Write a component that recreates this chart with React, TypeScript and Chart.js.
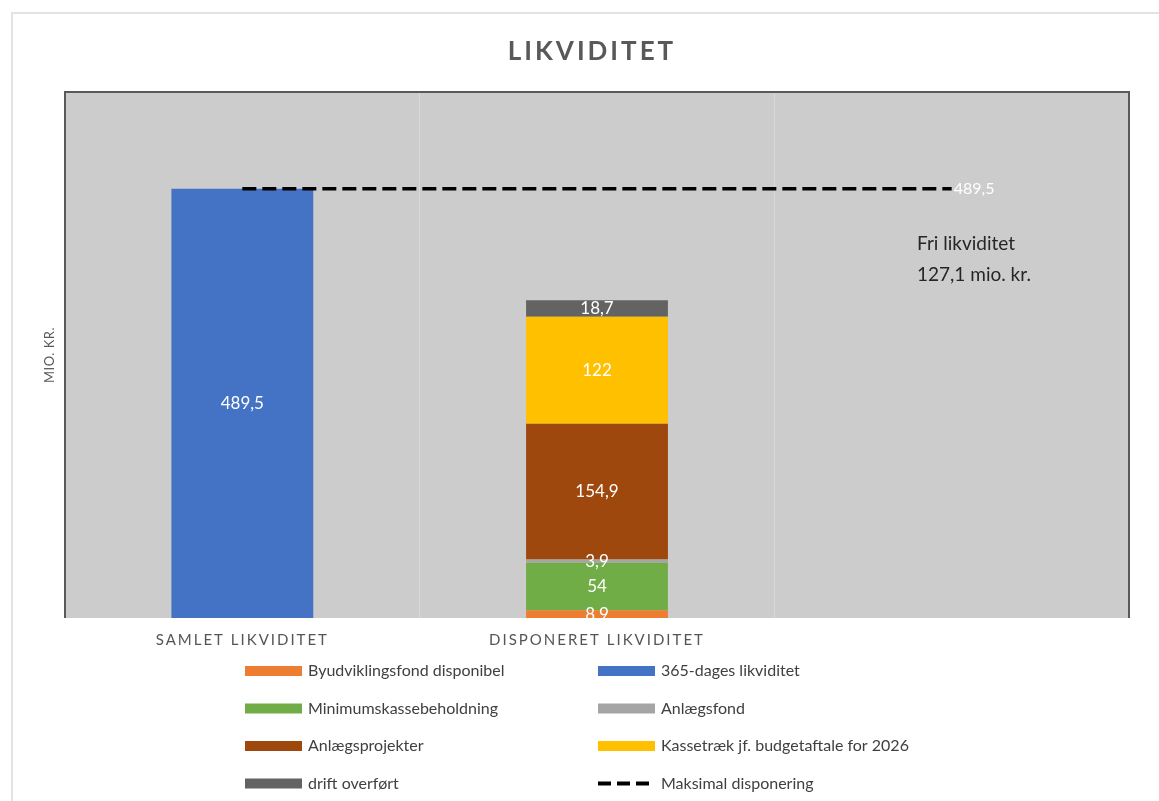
import React, { useEffect, useRef } from "react";
import { Chart, registerables } from "chart.js";

Chart.register(...registerables);

// ---- data ----
const categories = ["SAMLET LIKVIDITET", "DISPONERET LIKVIDITET", ""];
const byudviklingsfond = [null, 8.9, null];
const dages365 = [489.5, null, null];
const minimumskasse = [null, 54, null];
const anlaegsfond = [null, 3.9, null];
const anlaegsprojekter = [null, 154.9, null];
const kassetraek = [null, 122, null];
const driftOverfort = [null, 18.7, null];
const maksimalDisponering = [489.5, 489.5, 489.5];
const yMax = 600;
const chartTitle = "LIKVIDITET";
const yAxisTitle = "MIO. KR.";
const noteLines = ["Fri likviditet", "127,1 mio. kr."];

const FONT = "Lato";
const fmt = (v: number) => String(v).replace(".", ",");

const decorPlugin = {
  id: "decor",
  beforeDraw(chart: any) {
    const { ctx, chartArea: a } = chart;
    ctx.save();
    ctx.fillStyle = "#cccccc";
    ctx.fillRect(a.left, a.top, a.right - a.left, a.bottom - a.top);
    ctx.restore();
    (ctx as any).letterSpacing = "2px";
  },
  beforeDatasetsDraw(chart: any) {
    (chart.ctx as any).letterSpacing = "0px";
  },
  afterDatasetsDraw(chart: any) {
    const { ctx, chartArea: a } = chart;
    ctx.save();
    ctx.beginPath();
    ctx.rect(a.left, a.top, a.right - a.left, a.bottom - a.top);
    ctx.clip();
    ctx.fillStyle = "#ffffff";
    ctx.font = `17px ${FONT}`;
    ctx.textAlign = "center";
    ctx.textBaseline = "middle";
    chart.data.datasets.forEach((ds: any, i: number) => {
      const meta = chart.getDatasetMeta(i);
      if (ds.type === "line") {
        const last = meta.data[meta.data.length - 1];
        if (!last) return;
        ctx.save();
        ctx.textAlign = "left";
        ctx.font = `16px ${FONT}`;
        ctx.fillText(fmt(ds.data[ds.data.length - 1]), last.x + 2, last.y);
        ctx.restore();
        return;
      }
      meta.data.forEach((el: any, j: number) => {
        const v = ds.data[j];
        if (v == null) return;
        const p = el.getProps(["x", "y", "base"], true);
        ctx.fillText(fmt(v), p.x, (p.y + p.base) / 2);
      });
    });
    ctx.restore();
  },
  afterDraw(chart: any) {
    const { ctx, chartArea: a } = chart;
    ctx.save();
    // plot border (top, left, right)
    ctx.strokeStyle = "#595959";
    ctx.lineWidth = 2;
    ctx.beginPath();
    ctx.moveTo(a.left, a.bottom);
    ctx.lineTo(a.left, a.top);
    ctx.lineTo(a.right, a.top);
    ctx.lineTo(a.right, a.bottom);
    ctx.stroke();

    // title
    ctx.fillStyle = "#595959";
    ctx.font = `bold 26px ${FONT}`;
    ctx.textAlign = "center";
    ctx.textBaseline = "middle";
    (ctx as any).letterSpacing = "3px";
    ctx.fillText(chartTitle, 592, 52);

    // y axis title
    ctx.save();
    (ctx as any).letterSpacing = "0.5px";
    ctx.font = `13px ${FONT}`;
    ctx.translate(50, 355);
    ctx.rotate(-Math.PI / 2);
    ctx.fillText(yAxisTitle, 0, 0);
    ctx.restore();

    // note
    (ctx as any).letterSpacing = "0px";
    ctx.fillStyle = "#262626";
    ctx.font = `19px ${FONT}`;
    ctx.textAlign = "left";
    noteLines.forEach((t, k) => ctx.fillText(t, 917, 244 + k * 31));

    // legend
    ctx.font = `16px ${FONT}`;
    ctx.fillStyle = "#404040";
    const colX = [245, 598];
    chart.data.datasets.forEach((ds: any, i: number) => {
      const col = i % 2;
      const row = Math.floor(i / 2);
      const x = colX[col];
      const y = 671 + row * 37.5;
      if (ds.type === "line") {
        ctx.save();
        ctx.strokeStyle = ds.borderColor;
        ctx.lineWidth = 4;
        ctx.setLineDash([13, 6]);
        ctx.beginPath();
        ctx.moveTo(x, y);
        ctx.lineTo(x + 57, y);
        ctx.stroke();
        ctx.restore();
      } else {
        ctx.save();
        ctx.fillStyle = ds.backgroundColor;
        ctx.fillRect(x, y - 5, 57, 10);
        ctx.restore();
      }
      ctx.fillText(ds.label, x + 63, y);
    });
    ctx.restore();
  },
};

export default function App() {
  const ref = useRef<HTMLCanvasElement>(null);
  useEffect(() => {
    const bar = (label: string, data: any[], color: string) => ({
      type: "bar" as const,
      label,
      data,
      backgroundColor: color,
      borderWidth: 0,
      stack: "s",
      barPercentage: 0.4,
      categoryPercentage: 1,
    });
    const chart = new Chart(ref.current!, {
      type: "bar",
      data: {
        labels: categories,
        datasets: [
          bar("Byudviklingsfond disponibel", byudviklingsfond, "#ED7D31"),
          bar("365-dages likviditet", dages365, "#4472C4"),
          bar("Minimumskassebeholdning", minimumskasse, "#70AD47"),
          bar("Anlægsfond", anlaegsfond, "#A5A5A5"),
          bar("Anlægsprojekter", anlaegsprojekter, "#9E480E"),
          bar("Kassetræk jf. budgetaftale for 2026", kassetraek, "#FFC000"),
          bar("drift overført", driftOverfort, "#636363"),
          {
            type: "line" as const,
            label: "Maksimal disponering",
            data: maksimalDisponering,
            borderColor: "#000000",
            borderWidth: 3.5,
            borderDash: [14, 6],
            pointRadius: 0,
            fill: false,
            stack: "line",
            order: -1,
          } as any,
        ],
      },
      options: {
        responsive: false,
        animation: false,
        layout: { padding: { left: 65, right: 30, top: 92, bottom: 139 } },
        plugins: {
          legend: { display: false },
          title: { display: false },
          tooltip: { enabled: false },
        },
        scales: {
          x: {
            stacked: true,
            offset: true,
            grid: { display: true, color: "#d9d9d9", drawTicks: false, offset: true },
            border: { display: false },
            ticks: {
              color: "#555555",
              font: { size: 15, family: FONT },
              padding: 13,
              maxRotation: 0,
              autoSkip: false,
            },
          },
          y: { stacked: true, display: false, min: 0, max: yMax },
        },
      },
      plugins: [decorPlugin],
    });
    return () => chart.destroy();
  }, []);
  return (
    <div
      style={{
        position: "fixed",
        left: 0,
        top: 0,
        width: 1159,
        height: 801,
        background: "#ffffff",
        overflow: "hidden",
      }}
    >
      <div
        style={{
          position: "absolute",
          left: 11,
          top: 12,
          width: 1200,
          height: 900,
          borderTop: "2px solid #e3e3e3",
          borderLeft: "2px solid #e3e3e3",
        }}
      />
      <canvas
        ref={ref}
        width={1159}
        height={801}
        style={{ position: "absolute", left: 0, top: 0 }}
      />
    </div>
  );
}
